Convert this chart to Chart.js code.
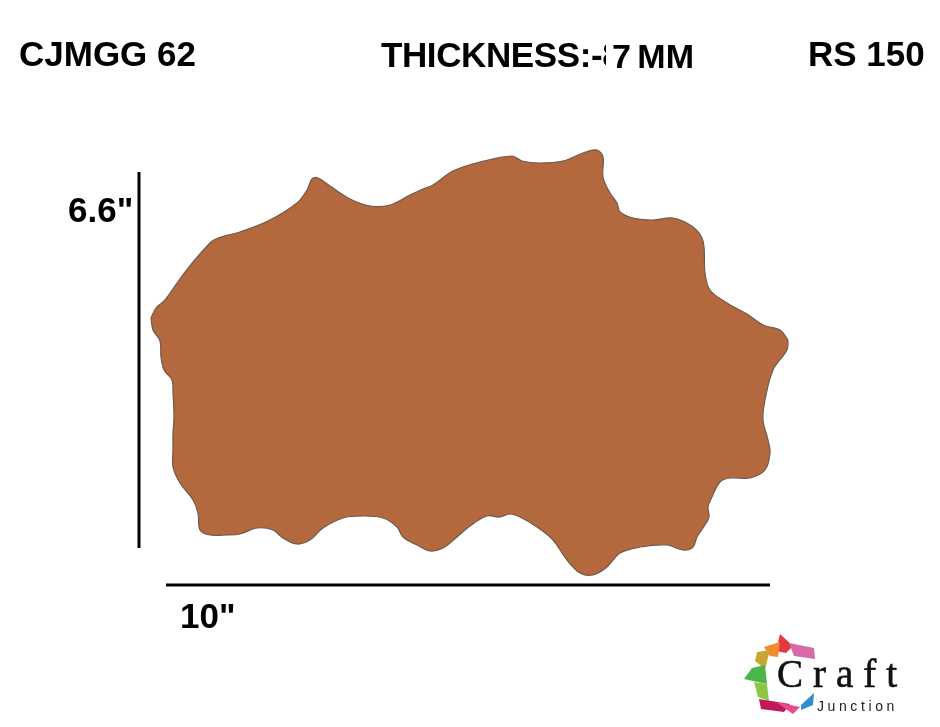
<!DOCTYPE html>
<html>
<head>
<meta charset="utf-8">
<script src="https://cdn.jsdelivr.net/npm/chart.js@4.4.1/dist/chart.umd.min.js"></script>
<style>
  html, body { margin: 0; padding: 0; background: #fff; }
  #wrap { position: relative; width: 940px; height: 727px; overflow: hidden; background: #fff; }
  #c { position: absolute; left: 0; top: 0; }
  .t { position: absolute; font-family: "Liberation Sans", Arial, sans-serif; font-weight: bold;
       font-size: 35px; line-height: 35px; white-space: nowrap; color: #000; }
  .cut { display: inline-block; width: 4px; overflow: hidden; vertical-align: top; letter-spacing: 0; }
  #logo { position: absolute; left: 740px; top: 628px; }
  .craft { position: absolute; font-family: "Liberation Serif", "DejaVu Serif", serif; font-size: 39px;
           line-height: 39px; letter-spacing: 10px; color: #111; white-space: nowrap; -webkit-text-stroke: 0.6px #111; }
  .junction { position: absolute; font-family: "Liberation Sans", Arial, sans-serif; font-size: 14px;
              line-height: 14px; letter-spacing: 3.6px; color: #222; white-space: nowrap; }
</style>
</head>
<body>
<div id="wrap">
  <canvas id="c" width="940" height="727"></canvas>

  <div class="t" id="code" style="left:19px;top:36px">CJMGG 62</div>
  <div class="t" id="thick" style="left:381px;top:37px;letter-spacing:-0.4px">THICKNESS:-<span class="cut">8</span></div>
  <div class="t" id="thickVal" style="left:612px;top:39px;font-size:34px;word-spacing:-3px">7 MM</div>
  <div class="t" id="price" style="left:808px;top:36px">RS 150</div>
  <div class="t" id="hLabel" style="left:68px;top:192px"></div>
  <div class="t" id="wLabel" style="left:180px;top:598px"></div>

  <svg id="logo" width="90" height="92" viewBox="0 0 90 92">
    <polygon points="36,23 40,6 53,18 46,25" fill="#e23b3f"/>
    <polygon points="49,15 74,20 75,31 54,28" fill="#d96aa8"/>
    <polygon points="24,19 40,14 38,29 30,28" fill="#f18b2d"/>
    <polygon points="17,24 30,22 25,41 15,33" fill="#c9a534"/>
    <polygon points="12,40 25,37 27,56 4,51" fill="#4cb648"/>
    <polygon points="14,54 27,56 29,73 18,69" fill="#8dc640"/>
    <polygon points="19,71 50,76 44,84 21,81" fill="#c2185b"/>
    <polygon points="36,74 60,79 53,86" fill="#e84a8a"/>
    <polygon points="61,77 74,65 73,77 61,82" fill="#2b8fd0"/>
  </svg>
  <div class="craft" style="left:777px;top:654px">Craft</div>
  <div class="junction" style="left:817px;top:699px">Junction</div>
</div>

<script>
// ---- Data: outline of the shape (page-pixel units on the chart's scales) ----
const upperX = [151,156,165,185,210,218,240,270,297,307,312,318,330,350,370,390,410,423,433,453,480,512,522,540,563,583,597,603,603,610,617,620,633,653,673,693,703,705,710,727,747,763,780,788];
const upperY = [318,308,300,272,243,238,232,220,203,190,179,178,186,199,206,205,195,189,185,171,162,156,161,163,161,153,150,157,177,193,203,212,218,220,218,227,241,273,290,303,314,325,330,340];

const lowerX = [151,153,160,161,164,172,173,174,173,173,173,180,193,198,200,210,227,240,257,273,283,297,310,323,343,363,383,397,403,417,430,443,457,470,487,500,510,520,537,553,567,580,593,607,620,640,667,683,693,697,703,709,708,712,720,730,750,765,770,768,763,765,773,787,788];
const lowerY = [318,330,341,357,370,380,392,417,433,450,467,483,500,513,530,535,535,534,528,530,538,544,540,528,518,516,518,527,537,545,551,548,537,526,516,517,514,517,527,540,560,573,575,567,553,547,545,550,547,537,528,517,507,497,482,478,478,470,453,440,420,400,370,350,340];

// ---- Dimension lines ----
const heightLineX = [139, 139];
const heightLineY = [172, 548];
const widthLineX  = [166, 770];
const widthLineY  = [585, 585];

// ---- Labels ----
const heightLabel = '6.6"';
const widthLabel  = '10"';

document.getElementById('hLabel').textContent = heightLabel;
document.getElementById('wLabel').textContent = widthLabel;

function toPts(xs, ys) { return xs.map((x, i) => ({ x: x, y: ys[i] })); }

const outlineColor = '#6f5a4c';
const fillColor = '#b4683d';

new Chart(document.getElementById('c'), {
  type: 'scatter',
  data: {
    datasets: [
      { data: toPts(upperX, upperY), showLine: true, fill: false, borderColor: outlineColor,
        borderWidth: 1.2, pointRadius: 0, tension: 0.35 },
      { data: toPts(lowerX, lowerY), showLine: true, fill: 0, backgroundColor: fillColor,
        borderColor: outlineColor, borderWidth: 1.2, pointRadius: 0, tension: 0.35 },
      { data: toPts(heightLineX, heightLineY), showLine: true, fill: false, borderColor: '#000',
        borderWidth: 3, pointRadius: 0, tension: 0 },
      { data: toPts(widthLineX, widthLineY), showLine: true, fill: false, borderColor: '#000',
        borderWidth: 3, pointRadius: 0, tension: 0 }
    ]
  },
  options: {
    responsive: false,
    animation: false,
    devicePixelRatio: 1,
    events: [],
    layout: { padding: 0 },
    plugins: { legend: { display: false }, tooltip: { enabled: false }, title: { display: false } },
    scales: {
      x: { type: 'linear', min: 0, max: 940, display: false },
      y: { type: 'linear', min: 0, max: 727, reverse: true, display: false }
    }
  }
});
</script>
</body>
</html>
